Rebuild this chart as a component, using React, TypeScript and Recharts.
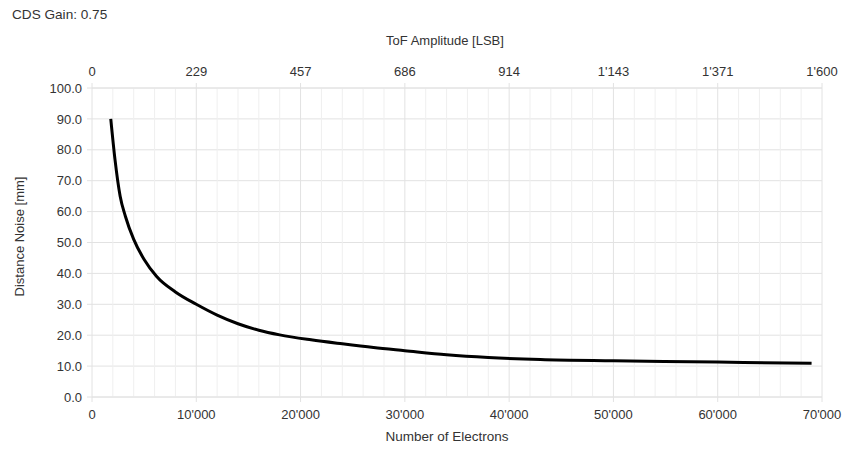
import { LineChart, Line, XAxis, YAxis, CartesianGrid, ReferenceLine, Label } from "recharts";

// number of electrons (bottom axis) and measured distance noise in mm
const electrons = [
  1800, 2200, 2700, 3200, 4000, 5000, 6200, 8000, 10000, 12000, 14000, 16000, 18000,
  21000, 24000, 27000, 30000, 34000, 38000, 43000, 50000, 60000, 69000,
];
const noiseMm = [
  90, 77, 65, 58.5, 51, 44.5, 39, 34, 30, 26.5, 23.7, 21.6, 20.1,
  18.5, 17.2, 16, 15, 13.7, 12.8, 12.1, 11.7, 11.3, 10.9,
];

const bottomTicks = [0, 10000, 20000, 30000, 40000, 50000, 60000, 70000];
const topTickLabels = ["0", "229", "457", "686", "914", "1'143", "1'371", "1'600"];
const yTicks = [0, 10, 20, 30, 40, 50, 60, 70, 80, 90, 100];
const minorGrid = [
  2000, 4000, 6000, 8000, 12000, 14000, 16000, 18000, 22000, 24000, 26000, 28000,
  32000, 34000, 36000, 38000, 42000, 44000, 46000, 48000, 52000, 54000, 56000, 58000,
  62000, 64000, 66000, 68000,
];
const majorGrid = [10000, 20000, 30000, 40000, 50000, 60000, 70000];

const data = electrons.map((n, i) => ({ n, noise: noiseMm[i] }));

const FONT = "'Liberation Sans', Arial, sans-serif";
const TEXT = "#333333";
const GRID = "#e2e2e2";

function fmtThousands(v: number) {
  return String(v).replace(/\B(?=(\d{3})+(?!\d))/g, "'");
}

function fmtTop(v: number) {
  const i = bottomTicks.indexOf(v);
  return i >= 0 ? topTickLabels[i] : "";
}

export default function App() {
  return (
    <div style={{ position: "fixed", left: 0, top: 0, width: 845, height: 452, background: "#fff", fontFamily: FONT }}>
      <div style={{ position: "absolute", left: 12, top: 7, fontSize: 13.6, color: TEXT }}>CDS Gain: 0.75</div>
      <LineChart width={845} height={452} data={data} margin={{ top: 58, right: 23, bottom: 25, left: 0 }}>
        <CartesianGrid stroke={GRID} vertical={false} />
        {minorGrid.map((v) => (
          <ReferenceLine key={"m" + v} x={v} stroke="#efefef" />
        ))}
        {majorGrid.map((v) => (
          <ReferenceLine key={"M" + v} x={v} stroke={GRID} />
        ))}

        <XAxis
          dataKey="n"
          type="number"
          domain={[0, 70000]}
          ticks={bottomTicks}
          tickFormatter={fmtThousands}
          height={30}
          tickSize={5}
          tickMargin={8}
          axisLine={{ stroke: GRID }}
          tickLine={{ stroke: GRID }}
          tick={{ fill: TEXT, fontSize: 13, fontFamily: FONT }}
        >
          <Label value="Number of Electrons" position="bottom" offset={4} dx={-10} style={{ fill: TEXT, fontSize: 13.5, fontFamily: FONT }} />
        </XAxis>

        <XAxis
          xAxisId="top"
          dataKey="n"
          orientation="top"
          type="number"
          domain={[0, 70000]}
          allowDataOverflow
          ticks={bottomTicks}
          tickFormatter={fmtTop}
          height={30}
          tickSize={5}
          tickMargin={7}
          axisLine={{ stroke: GRID }}
          tickLine={{ stroke: GRID }}
          tick={{ fill: TEXT, fontSize: 13, fontFamily: FONT }}
        >
          <Label value="ToF Amplitude [LSB]" position="top" offset={13} dx={-12} style={{ fill: TEXT, fontSize: 13, fontFamily: FONT }} />
        </XAxis>

        <YAxis
          type="number"
          domain={[0, 100]}
          ticks={yTicks}
          tickFormatter={(v: number) => v.toFixed(1)}
          width={92}
          tickSize={5}
          tickMargin={5}
          axisLine={{ stroke: GRID }}
          tickLine={{ stroke: GRID }}
          tick={{ fill: TEXT, fontSize: 13, fontFamily: FONT }}
        >
          <Label
            value="Distance Noise [mm]"
            angle={-90}
            position="insideLeft"
            offset={19}
            dy={-6}
            style={{ fill: TEXT, fontSize: 13, fontFamily: FONT, textAnchor: "middle" }}
          />
        </YAxis>

        {/* invisible series so the top axis gets its domain */}
        <Line
          xAxisId="top"
          dataKey="noise"
          stroke="none"
          dot={false}
          activeDot={false}
          legendType="none"
          isAnimationActive={false}
        />
        <Line
          dataKey="noise"
          type="monotone"
          stroke="#000"
          strokeWidth={3}
          dot={false}
          isAnimationActive={false}
        />
      </LineChart>
    </div>
  );
}
